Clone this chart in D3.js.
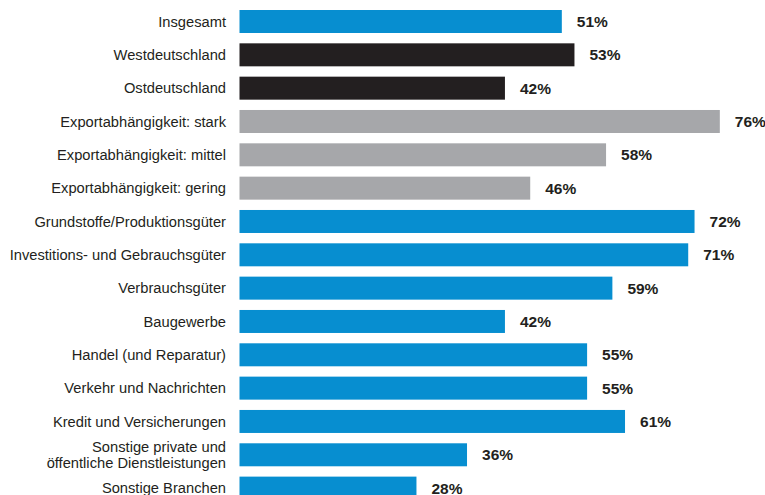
<!DOCTYPE html>
<html><head><meta charset="utf-8">
<script src="https://cdn.jsdelivr.net/npm/d3@7/dist/d3.min.js"></script>
<style>body{margin:0;background:#fff}svg{display:block}</style>
</head><body>
<svg id="c" width="765" height="495"></svg>
<script>
const categories = ["Insgesamt","Westdeutschland","Ostdeutschland","Exportabhängigkeit: stark","Exportabhängigkeit: mittel","Exportabhängigkeit: gering","Grundstoffe/Produktionsgüter","Investitions- und Gebrauchsgüter","Verbrauchsgüter","Baugewerbe","Handel (und Reparatur)","Verkehr und Nachrichten","Kredit und Versicherungen","Sonstige private und\nöffentliche Dienstleistungen","Sonstige Branchen"];
const values = [51,53,42,76,58,46,72,71,59,42,55,55,61,36,28];
const groups = ["total","region","region","export","export","export","branch","branch","branch","branch","branch","branch","branch","branch","branch"];
const colors = {total:"#078ed0", region:"#231f20", export:"#a6a7aa", branch:"#078ed0"};

const svg = d3.select("#c");
const step = 33.33;
const y0 = 21.5 - step/2;
const y = d3.scaleBand().domain(categories).range([y0, y0 + step*categories.length]).paddingInner(0.31).paddingOuter(0.155);
const x = d3.scaleLinear().domain([0,100]).range([239.5, 239.5+632]);

svg.selectAll("rect.bar").data(categories).join("rect")
  .attr("x", x(0)).attr("y", d=>y(d)).attr("height", y.bandwidth())
  .attr("width", (d,i)=>x(values[i])-x(0)).attr("fill",(d,i)=>colors[groups[i]]);

svg.selectAll("text.val").data(categories).join("text")
  .attr("x",(d,i)=>x(values[i])+15).attr("y",d=>y(d)+y.bandwidth()/2).attr("dy","0.36em")
  .attr("font-family","Liberation Sans, Arial, sans-serif").attr("font-size",15.5).attr("font-weight","bold")
  .attr("fill","#231f20").text((d,i)=>values[i]+"%");

const lab = svg.selectAll("text.cat").data(categories).join("text")
  .attr("x",226).attr("y",d=>y(d)+y.bandwidth()/2).attr("text-anchor","end")
  .attr("font-family","Liberation Sans, Arial, sans-serif").attr("font-size",14.7).attr("fill","#231f20");
lab.each(function(d){
  const lines = d.split("\n");
  const t = d3.select(this);
  lines.forEach((l,k)=>{
    t.append("tspan").attr("x",226).attr("dy", k===0 ? (0.36 - (lines.length-1)*0.55)+"em" : "1.1em").text(l);
  });
});
</script>
</body></html>
